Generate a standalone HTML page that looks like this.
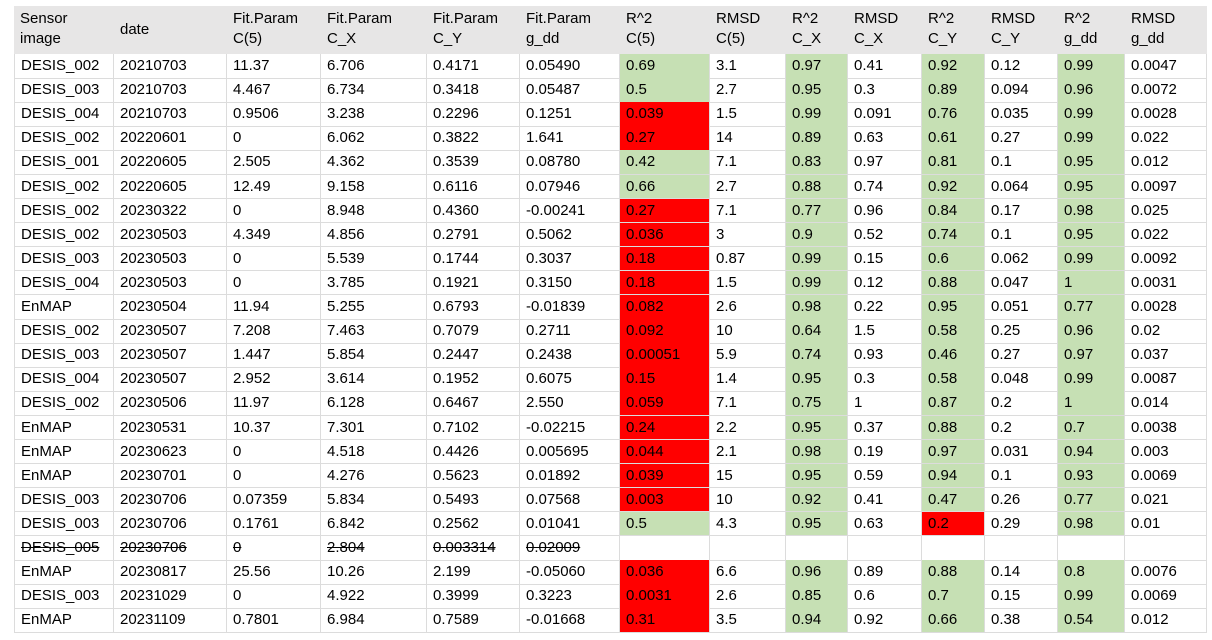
<!DOCTYPE html>
<html><head><meta charset="utf-8">
<style>
body{margin:0;background:#fff;width:1212px;height:640px;overflow:hidden;font-family:"Liberation Sans",sans-serif;}
#t{position:absolute;left:0;top:0;width:1212px;height:640px;}
.c{position:absolute;box-sizing:border-box;font-size:15px;color:#000;padding-left:6px;line-height:24px;white-space:nowrap;border-right:1px solid #dcdcdc;border-bottom:1px solid #dcdcdc;}
.h{background:#e7e6e6;line-height:20px;padding-top:3px;border:none;}
.g{background:#c6e0b4;}
.r{background:#ff0000;}
.s{text-decoration:line-through;}
</style></head><body>
<div id="t"></div>
<script>
const headers=[["Sensor","image"],["date",""],["Fit.Param","C(5)"],["Fit.Param","C_X"],["Fit.Param","C_Y"],["Fit.Param","g_dd"],["R^2","C(5)"],["RMSD","C(5)"],["R^2","C_X"],["RMSD","C_X"],["R^2","C_Y"],["RMSD","C_Y"],["R^2","g_dd"],["RMSD","g_dd"]];
const rows=[
["DESIS_002","20210703","11.37","6.706","0.4171","0.05490","0.69","3.1","0.97","0.41","0.92","0.12","0.99","0.0047"],
["DESIS_003","20210703","4.467","6.734","0.3418","0.05487","0.5","2.7","0.95","0.3","0.89","0.094","0.96","0.0072"],
["DESIS_004","20210703","0.9506","3.238","0.2296","0.1251","0.039","1.5","0.99","0.091","0.76","0.035","0.99","0.0028"],
["DESIS_002","20220601","0","6.062","0.3822","1.641","0.27","14","0.89","0.63","0.61","0.27","0.99","0.022"],
["DESIS_001","20220605","2.505","4.362","0.3539","0.08780","0.42","7.1","0.83","0.97","0.81","0.1","0.95","0.012"],
["DESIS_002","20220605","12.49","9.158","0.6116","0.07946","0.66","2.7","0.88","0.74","0.92","0.064","0.95","0.0097"],
["DESIS_002","20230322","0","8.948","0.4360","-0.00241","0.27","7.1","0.77","0.96","0.84","0.17","0.98","0.025"],
["DESIS_002","20230503","4.349","4.856","0.2791","0.5062","0.036","3","0.9","0.52","0.74","0.1","0.95","0.022"],
["DESIS_003","20230503","0","5.539","0.1744","0.3037","0.18","0.87","0.99","0.15","0.6","0.062","0.99","0.0092"],
["DESIS_004","20230503","0","3.785","0.1921","0.3150","0.18","1.5","0.99","0.12","0.88","0.047","1","0.0031"],
["EnMAP","20230504","11.94","5.255","0.6793","-0.01839","0.082","2.6","0.98","0.22","0.95","0.051","0.77","0.0028"],
["DESIS_002","20230507","7.208","7.463","0.7079","0.2711","0.092","10","0.64","1.5","0.58","0.25","0.96","0.02"],
["DESIS_003","20230507","1.447","5.854","0.2447","0.2438","0.00051","5.9","0.74","0.93","0.46","0.27","0.97","0.037"],
["DESIS_004","20230507","2.952","3.614","0.1952","0.6075","0.15","1.4","0.95","0.3","0.58","0.048","0.99","0.0087"],
["DESIS_002","20230506","11.97","6.128","0.6467","2.550","0.059","7.1","0.75","1","0.87","0.2","1","0.014"],
["EnMAP","20230531","10.37","7.301","0.7102","-0.02215","0.24","2.2","0.95","0.37","0.88","0.2","0.7","0.0038"],
["EnMAP","20230623","0","4.518","0.4426","0.005695","0.044","2.1","0.98","0.19","0.97","0.031","0.94","0.003"],
["EnMAP","20230701","0","4.276","0.5623","0.01892","0.039","15","0.95","0.59","0.94","0.1","0.93","0.0069"],
["DESIS_003","20230706","0.07359","5.834","0.5493","0.07568","0.003","10","0.92","0.41","0.47","0.26","0.77","0.021"],
["DESIS_003","20230706","0.1761","6.842","0.2562","0.01041","0.5","4.3","0.95","0.63","0.2","0.29","0.98","0.01"],
["DESIS_005","20230706","0","2.804","0.003314","0.02009","","","","","","","",""],
["EnMAP","20230817","25.56","10.26","2.199","-0.05060","0.036","6.6","0.96","0.89","0.88","0.14","0.8","0.0076"],
["DESIS_003","20231029","0","4.922","0.3999","0.3223","0.0031","2.6","0.85","0.6","0.7","0.15","0.99","0.0069"],
["EnMAP","20231109","0.7801","6.984","0.7589","-0.01668","0.31","3.5","0.94","0.92","0.66","0.38","0.54","0.012"]];
const colX=[14,114,227,321,427,520,620,710,786,848,922,985,1058,1125,1207];
const t=document.getElementById('t');
const hTop=6,hBot=54,rowH=24.1;
for(let j=0;j<headers.length;j++){
  const d=document.createElement('div');
  
  
  d.className='c h';
  d.style.left=colX[j]+'px';d.style.top=hTop+'px';
  d.style.width=(colX[j+1]-colX[j])+'px';d.style.height=(hBot-hTop)+'px';
  if(j==1){d.style.lineHeight=(hBot-hTop-6)+'px';d.textContent='date';}
  else d.innerHTML=headers[j][0]+'<br>'+headers[j][1];
  t.appendChild(d);
}
rows.forEach((r,i)=>{
  const top=hBot+i*rowH;
  r.forEach((v,j)=>{
    const d=document.createElement('div');
    
    
    let cls='c';
    if(v!==''&&(j==6||j==8||j==10||j==12)){
      const n=parseFloat(v);
      cls+=(n<0.4)?' r':' g';
    }
    if(i==20&&j<6)cls+=' s';
    d.className=cls;
    d.style.left=colX[j]+'px';d.style.top=top+'px';
    d.style.width=(colX[j+1]-colX[j])+'px';d.style.height=(rowH+0.5)+'px';
    if(j==0)d.style.borderLeft='1px solid #dcdcdc';
    d.textContent=v;
    t.appendChild(d);
  });
});
</script>
</body></html>
